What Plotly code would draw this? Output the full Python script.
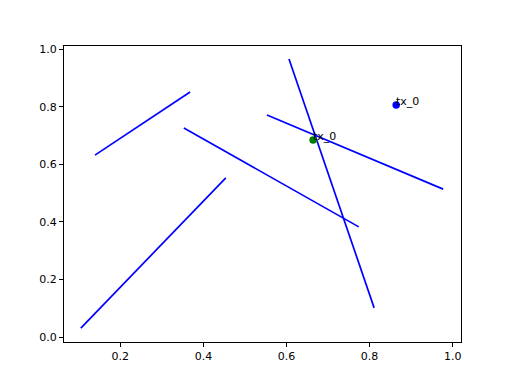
import plotly.graph_objects as go

seg_x0 = [0.139, 0.105, 0.353, 0.553, 0.606]
seg_y0 = [0.632, 0.032, 0.726, 0.771, 0.965]
seg_x1 = [0.368, 0.454, 0.774, 0.977, 0.811]
seg_y1 = [0.851, 0.553, 0.383, 0.514, 0.102]

pt_x = [0.864, 0.664]
pt_y = [0.806, 0.684]
pt_colors = ["blue", "green"]
pt_labels = ["tx_0", "tx_0"]

x_ticks = [0.2, 0.4, 0.6, 0.8, 1.0]
y_ticks = [0.0, 0.2, 0.4, 0.6, 0.8, 1.0]

fig = go.Figure()
for a, b, c, d in zip(seg_x0, seg_y0, seg_x1, seg_y1):
    fig.add_trace(go.Scatter(x=[a, c], y=[b, d], mode="lines",
                             line=dict(color="blue", width=1.7),
                             showlegend=False, hoverinfo="skip"))
fig.add_trace(go.Scatter(x=pt_x, y=pt_y, mode="markers",
                         marker=dict(color=pt_colors, size=7.5, line=dict(width=0)),
                         showlegend=False))
for x, y, t in zip(pt_x, pt_y, pt_labels):
    fig.add_annotation(x=x, y=y, text=t, showarrow=False, xanchor="left", yanchor="bottom",
                       xshift=-2, yshift=-5, font=dict(family="DejaVu Sans", size=11, color="black"))

axis_common = dict(showgrid=False, zeroline=False, showline=True, mirror=True,
                   linecolor="black", linewidth=1, ticks="outside", ticklen=4,
                   tickwidth=1, tickcolor="black",
                   tickfont=dict(family="DejaVu Sans", size=11, color="black"))
fig.update_xaxes(range=[0.0645, 1.020], tickvals=x_ticks,
                 ticktext=[f"{v:.1f}" for v in x_ticks], **axis_common)
fig.update_yaxes(range=[-0.0163, 1.0104], tickvals=y_ticks,
                 ticktext=[f"{v:.1f}" for v in y_ticks], **axis_common)
fig.update_layout(width=512, height=384, margin=dict(l=64, r=51, t=46, b=42),
                  plot_bgcolor="white", paper_bgcolor="white")
fig.write_html("out.html")
